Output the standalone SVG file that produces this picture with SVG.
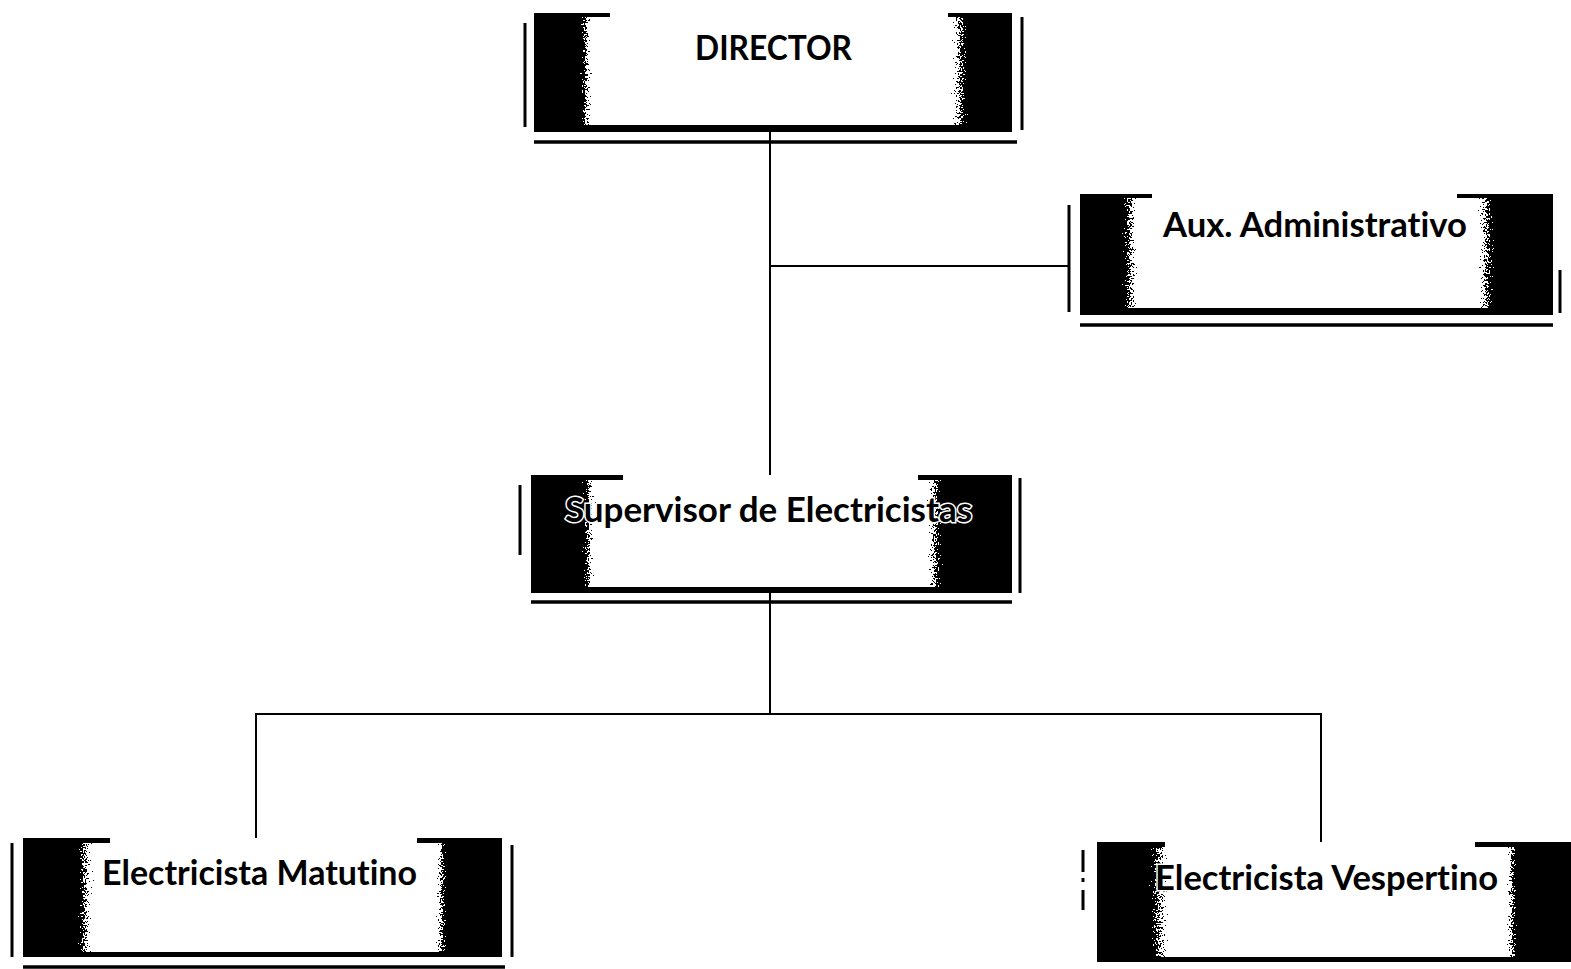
<svg xmlns="http://www.w3.org/2000/svg" width="1571" height="969" viewBox="0 0 1571 969">
<style>
.bg{fill:#fff}
.blk{fill:#000}
.wht{fill:#fff}
.sl{stroke:#000;stroke-width:3;fill:none}
.bl{stroke:#000;stroke-width:3.5;fill:none}
.con{stroke:#000;stroke-width:2;fill:none}
.lbl{font-family:Lato,"Open Sans","Liberation Sans",sans-serif;font-weight:bold;font-size:35px;fill:#000;stroke:#fff;stroke-width:3;paint-order:stroke;text-anchor:start;font-variant-ligatures:none}
</style>
<defs>
<linearGradient id="gl" x1="0" y1="0" x2="1" y2="0"><stop offset="0" stop-color="#000"/><stop offset="1" stop-color="#fff"/></linearGradient>
<linearGradient id="gr" x1="0" y1="0" x2="1" y2="0"><stop offset="0" stop-color="#fff"/><stop offset="1" stop-color="#000"/></linearGradient>
<filter id="spk" x="0" y="0" width="1" height="1" color-interpolation-filters="sRGB">
<feTurbulence type="fractalNoise" baseFrequency="0.55" numOctaves="2" seed="7" result="n"/>
<feColorMatrix in="n" type="matrix" values="1 0 0 0 0  1 0 0 0 0  1 0 0 0 0  0 0 0 0 1" result="ng"/>
<feComposite in="SourceGraphic" in2="ng" operator="arithmetic" k1="0" k2="1" k3="0.9" k4="-0.45" result="s"/>
<feComponentTransfer in="s">
<feFuncR type="discrete" tableValues="0 1"/>
<feFuncG type="discrete" tableValues="0 1"/>
<feFuncB type="discrete" tableValues="0 1"/>
<feFuncA type="linear" slope="0" intercept="1"/>
</feComponentTransfer>
</filter>
</defs>
<rect class="bg" x="0" y="0" width="1571" height="969"/>

<g id="connectors">
<line class="con" x1="770" y1="132" x2="770" y2="475"/>
<line class="con" x1="770" y1="266" x2="1069" y2="266"/>
<line class="con" x1="770" y1="593" x2="770" y2="714"/>
<line class="con" x1="256" y1="714" x2="1321" y2="714"/>
<line class="con" x1="256" y1="713" x2="256" y2="838"/>
<line class="con" x1="1321" y1="713" x2="1321" y2="843"/>
</g>

<g id="director">
<rect class="blk" x="534" y="13" width="478" height="119"/>
<rect class="wht" x="597" y="17" width="346" height="108"/>
<rect class="wht" x="610" y="13" width="338" height="6"/>
<rect fill="url(#gl)" filter="url(#spk)" x="575" y="17" width="22" height="108"/>
<rect fill="url(#gr)" filter="url(#spk)" x="943" y="17" width="34" height="108"/>
<line class="sl" x1="525" y1="23" x2="525" y2="127"/>
<line class="sl" x1="1022" y1="17" x2="1022" y2="130"/>
<line class="bl" x1="534" y1="142" x2="1017" y2="142"/>
<text class="lbl" x="695" y="60" textLength="157" lengthAdjust="spacingAndGlyphs">DIRECTOR</text>
</g>

<g id="aux">
<rect class="blk" x="1080" y="194" width="473" height="121"/>
<rect class="wht" x="1145" y="198" width="325" height="110"/>
<rect class="wht" x="1152" y="194" width="305" height="6"/>
<rect fill="url(#gl)" filter="url(#spk)" x="1115" y="198" width="30" height="110"/>
<rect fill="url(#gr)" filter="url(#spk)" x="1470" y="198" width="33" height="110"/>
<line class="sl" x1="1069" y1="205" x2="1069" y2="312"/>
<line class="sl" x1="1560" y1="270" x2="1560" y2="313"/>
<line class="bl" x1="1080" y1="325" x2="1553" y2="325"/>
<text class="lbl" x="1163" y="237" textLength="304" lengthAdjust="spacingAndGlyphs">Aux. Administrativo</text>
</g>

<g id="supervisor">
<rect class="blk" x="531" y="475" width="481" height="118"/>
<rect class="wht" x="600" y="480" width="320" height="107"/>
<rect class="wht" x="623" y="475" width="295" height="7"/>
<rect fill="url(#gl)" filter="url(#spk)" x="577" y="480" width="23" height="107"/>
<rect fill="url(#gr)" filter="url(#spk)" x="920" y="480" width="30" height="107"/>
<line class="sl" x1="520" y1="485" x2="520" y2="555"/>
<line class="sl" x1="1020" y1="478" x2="1020" y2="593"/>
<line class="bl" x1="531" y1="602" x2="1012" y2="602"/>
<text class="lbl" x="565" y="522" textLength="407" lengthAdjust="spacingAndGlyphs">Supervisor de Electricistas</text>
</g>

<g id="matutino">
<rect class="blk" x="23" y="838" width="479" height="119"/>
<rect class="wht" x="100" y="843" width="330" height="109"/>
<rect class="wht" x="110" y="838" width="307" height="7"/>
<rect fill="url(#gl)" filter="url(#spk)" x="70" y="843" width="30" height="109"/>
<rect fill="url(#gr)" filter="url(#spk)" x="430" y="843" width="23" height="109"/>
<line class="sl" x1="12" y1="843" x2="12" y2="957"/>
<line class="sl" x1="512" y1="845" x2="512" y2="957"/>
<line class="bl" x1="23" y1="967" x2="505" y2="967"/>
<text class="lbl" x="102" y="885" textLength="315" lengthAdjust="spacingAndGlyphs">Electricista Matutino</text>
</g>

<g id="vespertino">
<rect class="blk" x="1097" y="842" width="474" height="120"/>
<rect class="wht" x="1178" y="847" width="324" height="110"/>
<rect class="wht" x="1165" y="842" width="310" height="7"/>
<rect fill="url(#gl)" filter="url(#spk)" x="1140" y="847" width="38" height="110"/>
<rect fill="url(#gr)" filter="url(#spk)" x="1502" y="847" width="20" height="110"/>
<line class="sl" x1="1083" y1="850" x2="1083" y2="927" stroke-dasharray="22 6 4 8 20"/>
<text class="lbl" x="1155" y="890" textLength="343" lengthAdjust="spacingAndGlyphs">Electricista Vespertino</text>
</g>
</svg>
